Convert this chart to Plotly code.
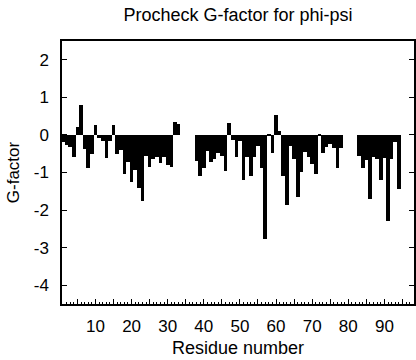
import plotly.graph_objects as go

# Residue numbers (gaps at 34-37 and 79-82 have no value)
residues = [1, 2, 3, 4, 5, 6, 7, 8, 9, 10, 11, 12, 13, 14, 15, 16, 17, 18, 19, 20,
            21, 22, 23, 24, 25, 26, 27, 28, 29, 30, 31, 32, 33,
            38, 39, 40, 41, 42, 43, 44, 45, 46, 47, 48, 49, 50, 51, 52, 53, 54, 55,
            56, 57, 58, 59, 60, 61, 62, 63, 64, 65, 66, 67, 68, 69, 70, 71, 72, 73,
            74, 75, 76, 77, 78,
            83, 84, 85, 86, 87, 88, 89, 90, 91, 92, 93, 94]

g_factor = [-0.20, -0.28, -0.32, -0.60, 0.21, 0.80, -0.38, -0.88, -0.50, 0.27,
            -0.07, -0.16, -0.62, -0.16, 0.27, -0.50, -0.40, -1.03, -0.72, -1.25,
            -0.93, -1.40, -1.75, -0.55, -0.85, -0.65, -0.60, -0.75, -0.60, -0.80,
            -0.85, 0.35, 0.30,
            -0.69, -1.09, -0.87, -0.42, -0.72, -0.63, -0.47, -0.56, -0.96, 0.33,
            -0.13, -0.60, -0.16, -1.20, -0.60, -1.08, -0.58, -0.30,
            -0.87, -2.77, -0.02, -0.47, 0.54, 0.10, -1.10, -1.87, -0.30, -0.65,
            -1.66, -0.98, -0.45, -0.58, -0.78, -1.04, -0.02, -0.47,
            -0.33, -0.25, -0.35, -0.89, -0.36,
            -0.56, -0.88, -0.67, -1.71, -0.60, -0.63, -1.20, -0.62, -2.28, -0.65,
            -0.19, -1.44]

x_tick_vals = [5, 10, 15, 20, 25, 30, 35, 40, 45, 50, 55, 60, 65, 70, 75, 80, 85, 90, 95]
x_tick_text = ["", "10", "", "20", "", "30", "", "40", "", "50", "", "60", "", "70",
               "", "80", "", "90", ""]
y_tick_vals = [-4, -3, -2, -1, 0, 1, 2]
y_tick_text = ["-4", "-3", "-2", "-1", "0", "1", "2"]

FONT = "Liberation Sans, Arial, Helvetica, sans-serif"

fig = go.Figure(
    go.Bar(x=residues, y=g_factor, width=1, marker=dict(color="black", line=dict(width=0)))
)

fig.update_layout(
    width=416, height=360,
    margin=dict(l=62, r=2, t=41, b=56, autoexpand=False),
    plot_bgcolor="white", paper_bgcolor="white",
    bargap=0, showlegend=False,
    font=dict(family=FONT, color="black", size=17),
    title=dict(text="Procheck G-factor for phi-psi", x=0.572, xref="container",
               xanchor="center", y=0.96, yanchor="middle",
               font=dict(family=FONT, size=18, color="black")),
)

fig.update_xaxes(
    range=[0.73, 98.2], showgrid=False, zeroline=False, automargin=False,
    showline=True, linecolor="black", linewidth=1.5, mirror=True,
    ticks="inside", ticklen=5, tickwidth=1, tickcolor="black",
    tickvals=x_tick_vals, ticktext=x_tick_text,
    tickfont=dict(size=17), ticklabelstandoff=6,
    minor=dict(ticks="inside", ticklen=2, dtick=1, tick0=0, tickcolor="black", tickwidth=1),
    title=dict(text="Residue number", font=dict(size=18), standoff=6),
)

fig.update_yaxes(
    range=[-4.5, 2.5], showgrid=False, zeroline=False, automargin=False,
    showline=True, linecolor="black", linewidth=1.5, mirror="ticks",
    ticks="inside", ticklen=5, tickwidth=1, tickcolor="black",
    tickvals=y_tick_vals, ticktext=y_tick_text,
    tickfont=dict(size=17), ticklabelstandoff=8,
    title=dict(text="G-factor", font=dict(size=17), standoff=10),
)

fig.write_html(
    "out.html",
    config={"displayModeBar": False},
    post_script="document.body.style.margin='0';document.body.style.overflow='hidden';",
)
